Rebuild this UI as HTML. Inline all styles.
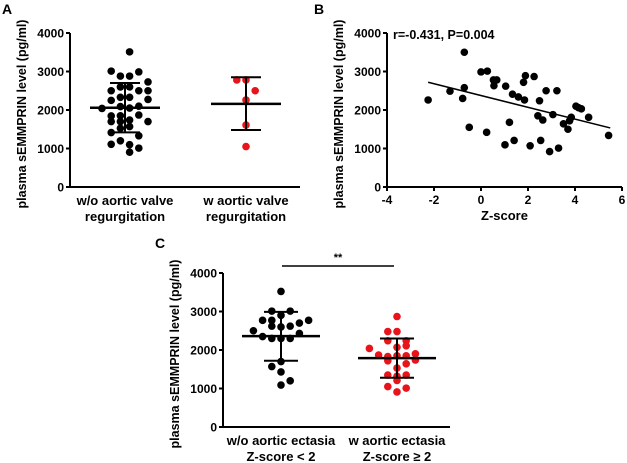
<!DOCTYPE html>
<html><head><meta charset="utf-8"><style>
html,body{margin:0;padding:0;background:#fff;}
svg{display:block;font-family:"Liberation Sans",Arial,sans-serif;font-weight:bold;}
</style></head><body>
<svg id="fig" width="627" height="463" viewBox="0 0 627 463">
<text x="2" y="14" font-size="14">A</text>
<text x="314" y="14" font-size="14">B</text>
<text x="155" y="248" font-size="14">C</text>
</svg>
<script>
// Panel A data
const aG1Values=[3510,3010,2880,2880,2990,2730,2500,2600,2600,2500,2500,2330,2330,2275,2040,2090,2100,1845,1850,1870,1700,1700,1740,1700,1525,1570,1415,1330,1110,1200,905,1010,2250,2050,1100];
const aG1Cols=[0.5,-1.5,-0.5,0.5,1.5,2.5,-1.5,-0.5,0.5,1.5,2.5,-0.5,0.5,2.5,-2.5,-0.5,1.5,-1.5,-0.5,1.5,-1.5,-0.5,0.5,2.5,-0.5,0.5,-1.5,1.5,-1.5,-0.5,0.5,1.5,-1.5,0.5,0.5];
const aG2Values=[2780,2780,2500,2260,1610,1050];
const aG2Cols=[-1,0,1,0,0,0];
const aStats=[[2060,2700,1420],[2160,2850,1480]]; // mean, +sd, -sd
const aCats=["w/o aortic valve|regurgitation","w aortic valve|regurgitation"];
const yTicks=[0,1000,2000,3000,4000];
// Panel B data
const bZ=[-2.25,-1.32,-0.71,-0.71,-0.78,-0.5,0,0.27,0.24,0.53,0.67,0.55,1.05,1.02,1.21,1.34,1.59,1.41,1.81,1.89,1.85,2.09,2.26,2.49,2.42,2.54,2.63,2.77,2.92,3.06,3.23,3.3,3.51,3.7,3.77,3.84,4.04,4.15,4.27,4.58,5.43];
const bLevel=[2260,2490,2580,3500,2300,1550,2990,3010,1420,2780,2780,2630,2620,1095,1680,2410,2340,1210,2720,2890,2260,1070,2870,2240,1850,1210,1740,2500,920,1880,2500,1010,1640,1500,1720,1810,2100,2060,2030,1810,1340];
const bFit=[2376,-153]; // intercept, slope
const bFitRange=[-2.25,5.5];
const bXTicks=[-4,-2,0,2,4,6];
// Panel C data
const cG1Values=[3520,3010,3010,2770,2900,2700,2770,2620,2600,2620,2500,2430,2350,2300,2300,2300,1700,1570,1430,1090,1200,2770];
const cG1Cols=[0,-1,1,-2,0,2,3,-1,0,1,-3,2,-2,-1,0,1,0,-1,0,0,1,-1];
const cG2Values=[2870,2480,2480,2240,2240,2040,2070,2110,1870,1830,1850,1850,1900,1720,1740,1640,1530,1350,1320,1350,1210,1050,1010,910];
const cG2Cols=[0,-1,0,-1,1,-3,0,1,-2,-1,0,1,2,-1,2,1,0,-1,0,1,0,-1,1,0];
const cStats=[[2360,2990,1720],[1790,2300,1280]];
const cCats=["w/o aortic ectasia|Z-score < 2","w aortic ectasia|Z-score \u2265 2"];

const NS="http://www.w3.org/2000/svg";
const svg=document.getElementById('fig');
function mk(tag,attrs,parent){const e=document.createElementNS(NS,tag);for(const k in attrs)e.setAttribute(k,attrs[k]);(parent||svg).appendChild(e);return e;}
function txt(x,y,s,attrs,parent){const e=mk('text',Object.assign({x:x,y:y,'font-size':12},attrs||{}),parent);e.textContent=s;return e;}

function yAxis(g,ax,y0,y4,x1,title,name){
  const ys=v=>y0-(v/4000)*(y0-y4);
  const l=mk('line',{x1:ax,y1:y4,x2:ax,y2:y0,stroke:'#000','stroke-width':2},g);
  
  
  const xl=mk('line',{x1:ax,y1:y0,x2:x1,y2:y0,stroke:'#000','stroke-width':2},g);
  
  
  yTicks.forEach(v=>{
    mk('line',{x1:ax-4,y1:ys(v),x2:ax,y2:ys(v),stroke:'#000','stroke-width':2},g);
    const t=txt(ax-6,ys(v)+4.5,String(v),{'text-anchor':'end'},g);
    
    
  });
  const tt=txt(0,0,title,{'text-anchor':'middle','font-size':12.5,transform:`translate(${ax-44},${(y0+y4)/2+4}) rotate(-90)`},g);
  
  
  return ys;
}
function dotPanel(name,ax,y0,y4,x1,centers,groups,stats,cats,colors,meanHalf,sdHalf){
  const g=mk('g',{});
  
  
  const ys=yAxis(g,ax,y0,y4,x1,'plasma sEMMPRIN level (pg/ml)',name);
  groups.forEach((gr,i)=>{
    const cx=centers[i];
    gr[0].forEach((v,j)=>{
      const c=mk('circle',{cx:cx+gr[1][j]*9.2,cy:ys(v),r:3.8,fill:colors[i]},g);
      
      
    });
    const s=stats[i];
    const m=mk('line',{x1:cx-meanHalf,x2:cx+meanHalf,y1:ys(s[0]),y2:ys(s[0]),stroke:'#000','stroke-width':2.5},g);
    
    
    mk('line',{x1:cx,x2:cx,y1:ys(s[1]),y2:ys(s[2]),stroke:'#000','stroke-width':2},g);
    [s[1],s[2]].forEach(v=>{
      const e=mk('line',{x1:cx-sdHalf,x2:cx+sdHalf,y1:ys(v),y2:ys(v),stroke:'#000','stroke-width':2},g);
      
      
    });
    const parts=cats[i].split('|');
    parts.forEach((p,k)=>{
      const t=txt(cx,y0+18+k*16,p,{'text-anchor':'middle','font-size':13},g);
      
      
    });
  });
  return ys;
}
dotPanel('panel-a',70,187,33,300,[125,246],[[aG1Values,aG1Cols],[aG2Values,aG2Cols]],aStats,aCats,['#000','#e8141b'],35,15);
const ysC=dotPanel('panel-c',223,427,273,450,[281,397],[[cG1Values,cG1Cols],[cG2Values,cG2Cols]],cStats,cCats,['#000','#e8141b'],39,17);
const sig=mk('line',{x1:282,x2:394,y1:266,y2:266,stroke:'#000','stroke-width':1.5});


const st=txt(338,261,'**',{'text-anchor':'middle','font-size':11});



// Panel B
(function(){
  const g=mk('g',{});
  
  
  const ax=387,x0=387,x6=622;
  const ys=yAxis(g,ax,187,33,622,'plasma sEMMPRIN level (pg/ml)','panel-b');
  const xs=z=>x0+(z+4)/10*(x6-x0);
  bXTicks.forEach(v=>{
    mk('line',{x1:xs(v),x2:xs(v),y1:187,y2:191,stroke:'#000','stroke-width':2},g);
    const t=txt(xs(v),204,String(v),{'text-anchor':'middle'},g);
    
    
  });
  const xt=txt(xs(1),220,'Z-score',{'text-anchor':'middle','font-size':13},g);
  
  
  bZ.forEach((z,i)=>{
    const c=mk('circle',{cx:xs(z),cy:ys(bLevel[i]),r:3.8,fill:'#000'},g);
    
    
  });
  const f=z=>bFit[0]+bFit[1]*z;
  const rl=mk('line',{x1:xs(bFitRange[0]),y1:ys(f(bFitRange[0])),x2:xs(bFitRange[1]),y2:ys(f(bFitRange[1])),stroke:'#000','stroke-width':1.5},g);
  
  
  const an=txt(393,39,'r=-0.431, P=0.004',{'font-size':12.5},g);
  
  
})();
</script>
</body></html>
